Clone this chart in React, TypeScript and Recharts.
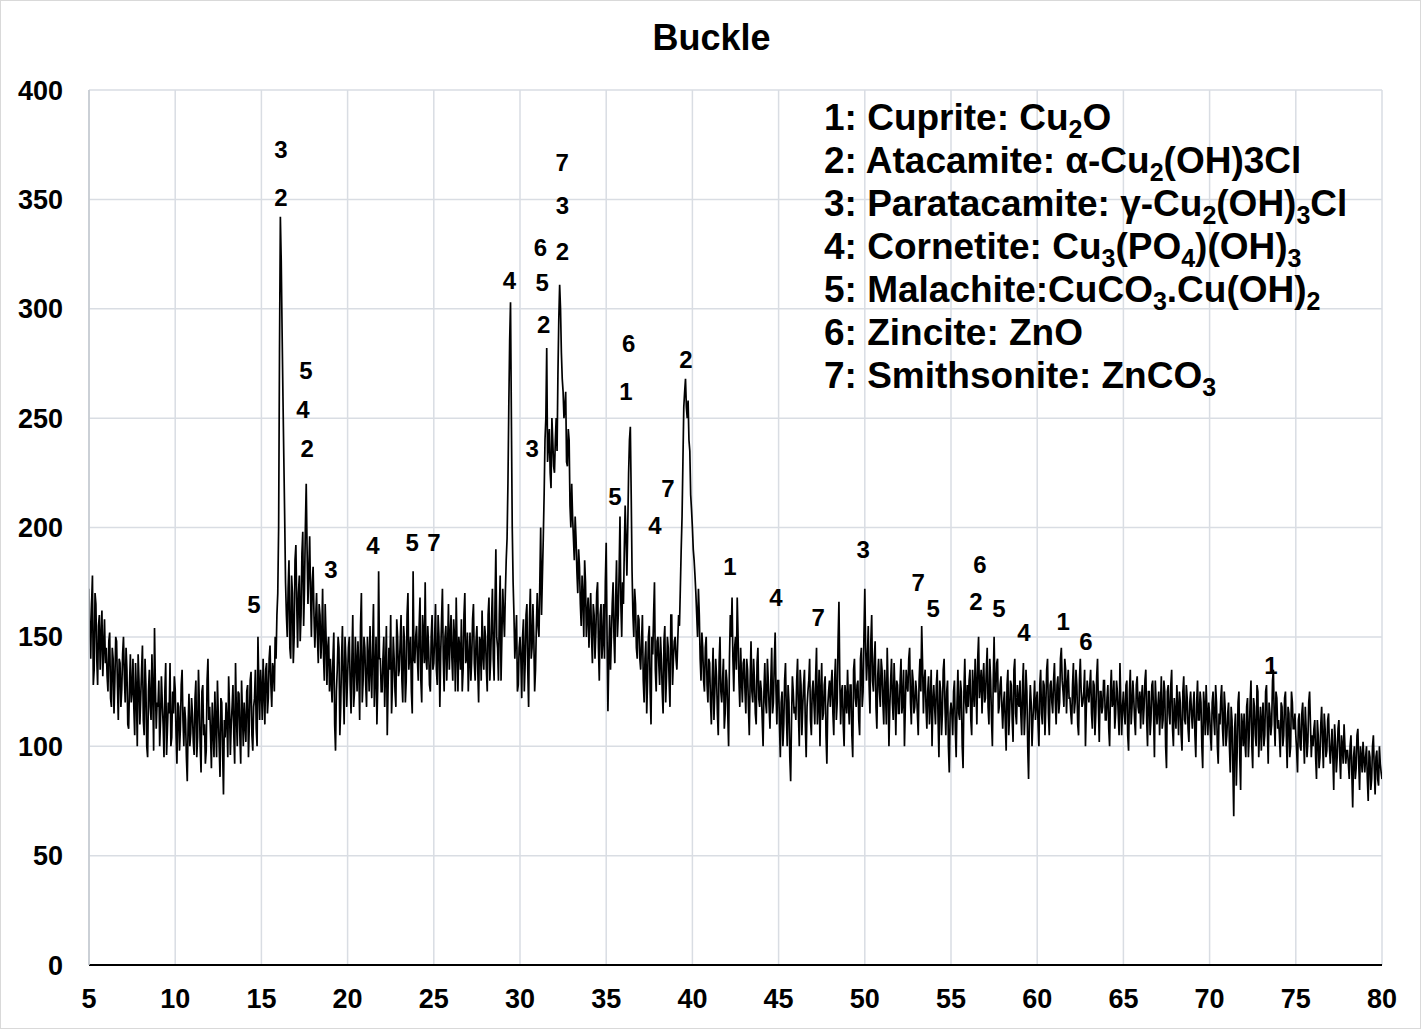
import React from 'react';
import { ComposedChart, Line, Scatter, XAxis, YAxis, CartesianGrid } from 'recharts';

// 2-theta start of the scan; one row per degree
const START = 5;

// intensity at x.0, x.1 ... x.9
const counts: number[][] = [
  [172, 140, 178, 135, 165, 128, 160, 150, 132, 158], // 5
  [145, 125, 152, 118, 140, 130, 148, 112, 138, 126],
  [150, 120, 135, 108, 142, 125, 118, 138, 100, 130],
  [122, 146, 105, 128, 95, 135, 112, 124, 154, 108],
  [118, 100, 132, 110, 125, 96, 120, 138, 104, 115],
  [126, 92, 118, 108, 135, 100, 112, 84, 124, 106], // 10
  [115, 96, 130, 104, 120, 88, 128, 110, 98, 140],
  [118, 90, 108, 125, 95, 114, 86, 120, 78, 104],
  [112, 132, 96, 118, 105, 138, 100, 124, 92, 115],
  [120, 102, 128, 110, 134, 98, 122, 108, 150, 112],
  [126, 140, 110, 138, 122, 146, 118, 135, 150, 160], // 15
  [200, 342, 290, 232, 175, 150, 185, 140, 170, 150],
  [192, 145, 178, 160, 198, 172, 220, 165, 196, 150],
  [182, 145, 170, 138, 160, 150, 142, 165, 128, 150],
  [140, 120, 152, 98, 135, 145, 118, 155, 110, 140],
  [132, 150, 115, 160, 125, 138, 148, 112, 170, 130], // 20
  [145, 118, 140, 155, 122, 165, 132, 110, 180, 140],
  [125, 150, 135, 105, 145, 160, 128, 140, 118, 150],
  [135, 160, 120, 148, 130, 170, 142, 125, 180, 138],
  [155, 130, 168, 120, 150, 175, 135, 145, 125, 160],
  [138, 165, 128, 150, 142, 172, 125, 155, 145, 135], // 25
  [160, 130, 150, 168, 125, 145, 158, 135, 170, 140],
  [125, 152, 140, 165, 130, 155, 120, 148, 162, 135],
  [150, 125, 168, 140, 172, 130, 190, 145, 160, 130],
  [172, 150, 185, 220, 285, 250, 175, 140, 160, 128],
  [150, 122, 158, 138, 165, 118, 172, 145, 150, 135], // 30
  [170, 150, 200, 178, 215, 250, 230, 245, 218, 240],
  [225, 250, 270, 311, 280, 262, 255, 230, 245, 210],
  [220, 195, 205, 180, 190, 165, 178, 150, 175, 160],
  [145, 170, 138, 160, 152, 175, 130, 165, 148, 140],
  [193, 116, 160, 150, 175, 138, 185, 160, 205, 150], // 35
  [165, 210, 178, 225, 246, 180, 150, 165, 140, 158],
  [135, 160, 120, 148, 130, 155, 110, 142, 175, 125],
  [150, 128, 140, 115, 155, 132, 145, 118, 160, 140],
  [150, 135, 160, 172, 205, 255, 268, 250, 240, 215],
  [200, 185, 170, 150, 160, 130, 145, 125, 150, 120], // 40
  [138, 110, 145, 125, 132, 105, 150, 120, 140, 115],
  [130, 100, 160, 168, 125, 150, 168, 130, 145, 120],
  [140, 115, 135, 105, 148, 120, 130, 110, 145, 118],
  [125, 100, 138, 115, 130, 108, 145, 120, 152, 110],
  [130, 95, 125, 110, 138, 100, 120, 84, 132, 115], // 45
  [112, 140, 100, 128, 118, 135, 95, 125, 140, 105],
  [130, 110, 145, 120, 100, 138, 115, 132, 92, 125],
  [118, 135, 105, 140, 120, 166, 110, 128, 100, 122],
  [135, 110, 128, 95, 140, 118, 130, 105, 145, 125],
  [172, 130, 155, 115, 160, 125, 148, 108, 140, 118], // 50
  [135, 110, 125, 145, 100, 130, 120, 138, 105, 128],
  [115, 140, 120, 100, 135, 125, 145, 110, 130, 118],
  [125, 105, 140, 155, 115, 135, 108, 132, 120, 100],
  [128, 110, 135, 95, 125, 115, 140, 105, 130, 88],
  [120, 105, 130, 95, 135, 112, 125, 90, 140, 115], // 55
  [118, 135, 105, 125, 140, 110, 150, 128, 115, 138],
  [122, 145, 110, 130, 100, 150, 125, 140, 118, 132],
  [108, 125, 98, 135, 115, 128, 102, 140, 110, 120],
  [130, 105, 138, 115, 125, 85, 128, 100, 120, 112],
  [125, 100, 135, 110, 128, 118, 140, 105, 130, 115], // 60
  [138, 110, 132, 120, 145, 125, 140, 115, 135, 122],
  [110, 138, 120, 128, 105, 140, 118, 125, 100, 130],
  [120, 135, 108, 128, 115, 140, 102, 125, 118, 130],
  [112, 128, 100, 135, 120, 108, 130, 115, 138, 105],
  [125, 110, 130, 98, 135, 118, 122, 105, 132, 115], // 65
  [108, 128, 118, 135, 100, 125, 112, 130, 95, 120],
  [118, 105, 132, 112, 125, 90, 128, 110, 135, 100],
  [115, 128, 105, 120, 98, 132, 110, 122, 102, 125],
  [108, 125, 95, 130, 112, 120, 90, 118, 128, 105],
  [115, 98, 125, 105, 120, 92, 110, 128, 100, 118], // 70
  [105, 120, 88, 112, 68, 115, 98, 125, 80, 110],
  [115, 95, 122, 105, 130, 90, 118, 100, 125, 108],
  [98, 120, 105, 128, 92, 115, 110, 135, 100, 122],
  [112, 95, 118, 105, 125, 90, 115, 100, 120, 108],
  [105, 88, 115, 98, 120, 92, 108, 102, 125, 95], // 75
  [100, 112, 85, 105, 95, 118, 90, 108, 98, 115],
  [92, 108, 80, 102, 95, 112, 85, 100, 110, 92],
  [98, 85, 105, 72, 100, 90, 108, 80, 95, 102],
  [88, 100, 75, 95, 85, 105, 78, 98, 82, 92],
  [85], // 80
];

// intensity at x.05, x.15 ... x.95
const countsMid: number[][] = [
  [150, 165, 128, 170, 140, 155, 135, 162, 145, 138], // 5
  [132, 148, 122, 145, 115, 150, 128, 140, 118, 142],
  [132, 145, 110, 128, 120, 140, 105, 125, 142, 110],
  [135, 112, 140, 100, 125, 118, 142, 98, 128, 120],
  [130, 112, 120, 95, 138, 108, 115, 100, 125, 132],
  [105, 120, 98, 128, 112, 118, 95, 110, 100, 122], // 10
  [102, 122, 95, 135, 100, 125, 105, 92, 130, 112],
  [105, 120, 95, 110, 130, 100, 122, 98, 112, 120],
  [95, 118, 110, 128, 92, 115, 125, 105, 130, 100],
  [110, 125, 95, 130, 105, 118, 135, 100, 128, 135],
  [112, 125, 135, 115, 140, 128, 138, 125, 140, 170], // 15
  [280, 322, 260, 205, 160, 172, 145, 178, 138, 185],
  [165, 170, 148, 188, 155, 200, 190, 180, 170, 175],
  [160, 158, 150, 165, 140, 172, 130, 150, 145, 125],
  [130, 140, 110, 125, 150, 105, 140, 128, 150, 118],
  [145, 128, 140, 118, 150, 125, 135, 155, 120, 150], // 20
  [128, 150, 125, 135, 145, 118, 150, 128, 140, 125],
  [140, 118, 155, 128, 135, 115, 150, 125, 158, 132],
  [148, 130, 155, 120, 160, 135, 150, 115, 140, 150],
  [140, 155, 130, 160, 138, 140, 155, 128, 150, 135],
  [150, 135, 160, 118, 158, 140, 150, 130, 165, 150], // 25
  [140, 158, 125, 145, 150, 135, 125, 160, 138, 152],
  [140, 130, 158, 138, 148, 135, 150, 130, 142, 155],
  [135, 160, 130, 158, 140, 165, 150, 130, 178, 150],
  [160, 170, 195, 255, 303, 200, 160, 150, 125, 145],
  [140, 150, 125, 160, 135, 158, 140, 165, 125, 155], // 30
  [155, 175, 160, 195, 240, 282, 238, 225, 250, 228],
  [240, 235, 295, 300, 268, 250, 262, 228, 240, 200],
  [205, 185, 195, 170, 182, 155, 168, 185, 150, 168],
  [160, 150, 165, 140, 170, 145, 160, 140, 165, 175],
  [150, 140, 135, 165, 150, 168, 150, 180, 165, 175], // 35
  [190, 195, 200, 240, 215, 160, 172, 145, 160, 140],
  [148, 130, 140, 115, 150, 125, 150, 160, 135, 148],
  [138, 150, 125, 148, 120, 150, 130, 160, 128, 148],
  [140, 148, 155, 190, 230, 262, 255, 258, 235, 208],
  [190, 178, 160, 172, 140, 152, 130, 145, 128, 140], // 40
  [120, 130, 112, 140, 115, 138, 125, 130, 108, 135],
  [115, 140, 150, 140, 145, 135, 150, 118, 130, 138],
  [125, 140, 118, 130, 125, 140, 115, 138, 122, 130],
  [112, 125, 120, 140, 118, 130, 115, 138, 125, 130],
  [110, 120, 100, 130, 115, 128, 95, 112, 125, 118], // 45
  [130, 115, 135, 105, 128, 110, 118, 130, 112, 125],
  [120, 132, 110, 135, 125, 112, 128, 105, 118, 130],
  [128, 115, 130, 112, 148, 130, 125, 110, 128, 115],
  [120, 128, 105, 135, 122, 128, 112, 140, 118, 150],
  [145, 140, 128, 148, 130, 140, 118, 132, 125, 140], // 50
  [120, 135, 110, 128, 118, 140, 112, 125, 130, 115],
  [130, 115, 135, 118, 128, 140, 120, 135, 115, 130],
  [115, 130, 125, 138, 130, 118, 125, 110, 135, 120],
  [118, 128, 112, 130, 105, 135, 118, 125, 100, 115],
  [115, 125, 108, 120, 115, 130, 100, 125, 120, 128], // 55
  [130, 112, 135, 118, 128, 140, 122, 135, 130, 120],
  [135, 118, 140, 112, 130, 125, 138, 115, 128, 118],
  [120, 110, 128, 105, 130, 112, 135, 115, 128, 118],
  [115, 128, 105, 135, 100, 115, 120, 112, 130, 120],
  [110, 128, 115, 130, 105, 135, 115, 128, 120, 130], // 60
  [120, 128, 115, 140, 130, 118, 135, 128, 122, 115],
  [128, 115, 135, 110, 130, 125, 120, 135, 118, 125],
  [128, 115, 130, 105, 132, 118, 125, 115, 130, 112],
  [122, 108, 125, 118, 130, 115, 125, 105, 120, 118],
  [115, 128, 105, 125, 110, 130, 112, 128, 118, 125], // 65
  [122, 110, 130, 112, 125, 105, 128, 115, 130, 110],
  [125, 118, 108, 130, 100, 125, 115, 128, 108, 122],
  [108, 118, 125, 105, 125, 112, 128, 108, 120, 115],
  [118, 105, 120, 112, 125, 100, 125, 105, 115, 120],
  [105, 120, 112, 128, 100, 115, 122, 108, 125, 100], // 70
  [115, 100, 118, 90, 108, 82, 120, 95, 115, 100],
  [102, 118, 95, 120, 100, 122, 105, 128, 95, 118],
  [112, 100, 125, 108, 120, 105, 130, 112, 125, 108],
  [105, 120, 100, 122, 105, 118, 95, 125, 108, 115],
  [98, 112, 100, 115, 105, 118, 95, 120, 110, 105], // 75
  [108, 95, 112, 90, 110, 102, 115, 95, 112, 100],
  [100, 95, 110, 88, 108, 95, 105, 92, 100, 98],
  [92, 100, 88, 95, 85, 105, 92, 100, 88, 95],
  [95, 85, 98, 80, 100, 90, 95, 85, 100, 88],
];

// phase labels placed over the peaks
const peakX = [14.57, 16.14, 16.14, 17.59, 17.41, 17.65, 19.04, 21.47, 23.74, 25.01, 29.38, 32.44, 32.46, 32.46, 31.18, 31.28, 31.37, 30.7, 36.3, 36.15, 35.51, 38.58, 37.83, 39.63, 42.18, 44.85, 47.29, 49.9, 53.09, 53.96, 56.68, 56.45, 57.78, 59.23, 61.5, 62.83, 73.56];
const peakY = [165, 373, 351, 272, 254, 236, 181, 192, 193, 193, 313, 367, 347, 326, 328, 312, 293, 236, 284, 262, 214, 218, 201, 277, 182, 168, 159, 190, 175, 163, 183, 166, 163, 152, 157, 148, 137];
const peakText = ['5', '3', '2', '5', '4', '2', '3', '4', '5', '7', '4', '7', '3', '2', '6', '5', '2', '3', '6', '1', '5', '7', '4', '2', '1', '4', '7', '3', '7', '5', '6', '2', '5', '4', '1', '6', '1'];

const xTicks = [5, 10, 15, 20, 25, 30, 35, 40, 45, 50, 55, 60, 65, 70, 75, 80];
const yTicks = [0, 50, 100, 150, 200, 250, 300, 350, 400];

const FONT = '"Liberation Sans", Arial, sans-serif';

const scan: { x: number; y: number }[] = [];
counts.forEach((row, r) => {
  row.forEach((v, j) => {
    scan.push({ x: START + r + j / 10, y: v });
    const mid = countsMid[r] && countsMid[r][j];
    if (mid !== undefined) scan.push({ x: START + r + j / 10 + 0.05, y: mid });
  });
});
const peaks = peakX.map((x, i) => ({ x, y: peakY[i], t: peakText[i] }));

const Sub = ({ children }: { children: React.ReactNode }) => (
  <span style={{ fontSize: 25, position: 'relative', top: 8, lineHeight: 0 }}>{children}</span>
);

const legendRows: React.ReactNode[] = [
  <>1: Cuprite: Cu<Sub>2</Sub>O</>,
  <>2: Atacamite: α-Cu<Sub>2</Sub>(OH)3Cl</>,
  <>3: Paratacamite: γ-Cu<Sub>2</Sub>(OH)<Sub>3</Sub>Cl</>,
  <>4: Cornetite: Cu<Sub>3</Sub>(PO<Sub>4</Sub>)(OH)<Sub>3</Sub></>,
  <>5: Malachite:CuCO<Sub>3</Sub>.Cu(OH)<Sub>2</Sub></>,
  <>6: Zincite: ZnO</>,
  <>7: Smithsonite: ZnCO<Sub>3</Sub></>,
];

const PeakLabel = (props: any) => (
  <text
    x={props.cx}
    y={props.cy}
    textAnchor="middle"
    dominantBaseline="central"
    fontSize={24}
    fontWeight="bold"
    fontFamily={FONT}
    fill="#000"
  >
    {props.payload.t}
  </text>
);

const tickStyle = { fill: '#000', fontSize: 27, fontWeight: 'bold', fontFamily: FONT };

const App = () => (
  <div
    style={{
      position: 'absolute',
      left: 0,
      top: 0,
      width: 1421,
      height: 1029,
      background: '#fff',
      border: '1px solid #d9d9d9',
      boxSizing: 'border-box',
      fontFamily: FONT,
    }}
  >
    <div
      style={{
        position: 'absolute',
        top: 19,
        left: 0,
        width: 1421,
        textAlign: 'center',
        fontSize: 36,
        lineHeight: '36px',
        fontWeight: 'bold',
      }}
    >
      Buckle
    </div>
    <div style={{ position: 'absolute', left: 0, top: 0 }}>
      <ComposedChart width={1421} height={1029} margin={{ top: 89, right: 40, bottom: 25, left: 0 }}>
        <CartesianGrid stroke="#d9dde3" strokeWidth={1.5} />
        <XAxis
          type="number"
          dataKey="x"
          domain={[5, 80]}
          ticks={xTicks}
          allowDataOverflow
          height={40}
          tickLine={false}
          tickMargin={18}
          tick={tickStyle}
          axisLine={{ stroke: '#000', strokeWidth: 2 }}
        />
        <YAxis
          type="number"
          domain={[0, 400]}
          ticks={yTicks}
          width={88}
          tickLine={false}
          tickMargin={20}
          tick={tickStyle}
          axisLine={{ stroke: '#c3c8cf', strokeWidth: 1.5 }}
        />
        <Line
          data={scan}
          dataKey="y"
          type="linear"
          stroke="#000"
          strokeWidth={1.7}
          dot={false}
          isAnimationActive={false}
        />
        <Scatter data={peaks} dataKey="y" shape={PeakLabel} isAnimationActive={false} />
      </ComposedChart>
    </div>
    <div
      style={{
        position: 'absolute',
        left: 823,
        top: 95,
        fontSize: 37,
        lineHeight: '43px',
        fontWeight: 'bold',
        whiteSpace: 'nowrap',
      }}
    >
      {legendRows.map((row, i) => (
        <div key={i} style={{ height: 43 }}>
          {row}
        </div>
      ))}
    </div>
  </div>
);

export default App;
